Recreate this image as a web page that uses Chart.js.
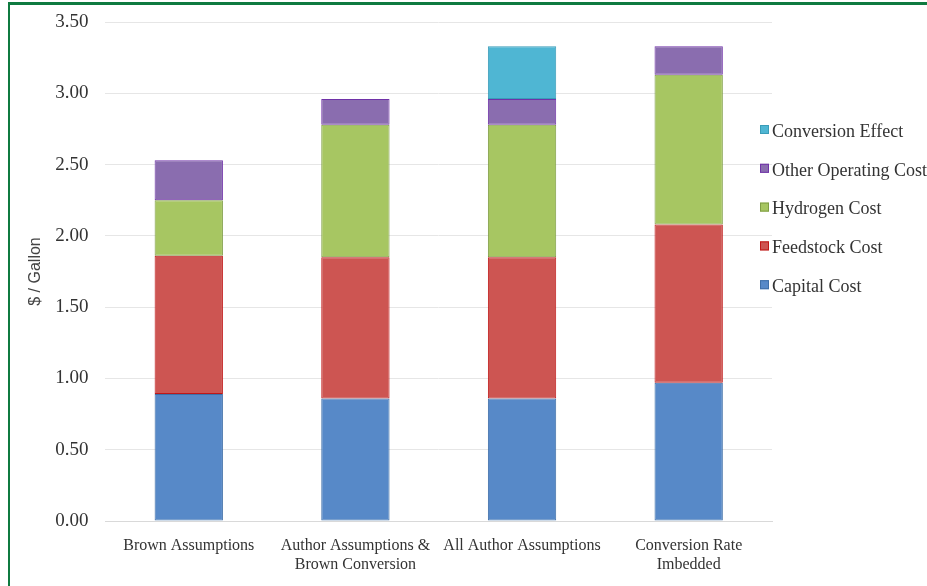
<!DOCTYPE html>
<html>
<head>
<meta charset="utf-8">
<script src="https://cdn.jsdelivr.net/npm/chart.js@4/dist/chart.umd.min.js"></script>
<style>
  html, body { margin: 0; padding: 0; background: #ffffff; }
  #frame {
    position: absolute; left: 8px; top: 2px; width: 940px; height: 600px;
    border-left: 2px solid #0f7a40; border-top: 3px solid #0f7a40;
    box-sizing: border-box;
  }
  #wrap { position: absolute; left: 0; top: 0; width: 927px; height: 586px; }
</style>
</head>
<body>
<div id="frame"></div>
<div id="wrap"><canvas id="c" width="927" height="586"></canvas></div>
<script>
// Scenario categories (multi-line labels)
const categories = [
  ["Brown Assumptions"],
  ["Author Assumptions &", "Brown Conversion"],
  ["All Author Assumptions"],
  ["Conversion Rate", "Imbedded"]
];

// Cost components, $ per gallon
const capitalCost        = [0.89, 0.86, 0.86, 0.97];
const feedstockCost      = [0.97, 0.99, 0.99, 1.11];
const hydrogenCost       = [0.39, 0.93, 0.93, 1.05];
const otherOperatingCost = [0.28, 0.18, 0.18, 0.20];
const conversionEffect   = [0.00, 0.00, 0.37, 0.00];

const yTicks = [0, 0.5, 1.0, 1.5, 2.0, 2.5, 3.0, 3.5];

const serif = "'Liberation Serif', 'Times New Roman', serif";

function ds(label, data, fill, border) {
  return {
    label, data,
    backgroundColor: fill,
    borderColor: border,
    borderWidth: 1,
    borderSkipped: false,
    categoryPercentage: 1.0,
    barPercentage: 0.41
  };
}

const datasets = [
  ds("Capital Cost", capitalCost, "#5789c8", "#3f6fa8"),
  ds("Feedstock Cost", feedstockCost, "#cd5552", "#c01818"),
  ds("Hydrogen Cost", hydrogenCost, "#a7c662", "#7f9d45"),
  ds("Other Operating Cost", otherOperatingCost, "#8a6daf", "#7032a8"),
  ds("Conversion Effect", conversionEffect, "#4fb6d3", "#3a9cb8")
];

// Legend drawn at the right, top entry = last dataset
const sideLegend = {
  id: "sideLegend",
  afterDraw(chart) {
    const ctx = chart.ctx;
    const sets = chart.data.datasets;
    ctx.save();
    ctx.font = "18px " + serif;
    ctx.textBaseline = "middle";
    ctx.textAlign = "left";
    const x0 = 760, y0 = 131, step = 38.8;
    for (let i = 0; i < sets.length; i++) {
      const d = sets[sets.length - 1 - i];
      const y = y0 + i * step;
      ctx.fillStyle = d.backgroundColor;
      ctx.fillRect(x0, y - 6, 9, 9);
      ctx.strokeStyle = d.borderColor;
      ctx.lineWidth = 1;
      ctx.strokeRect(x0 + 0.5, y - 5.5, 8, 8);
      ctx.fillStyle = "#333333";
      ctx.fillText(d.label, x0 + 12, y + 1);
    }
    ctx.restore();
  }
};

new Chart(document.getElementById("c"), {
  type: "bar",
  data: { labels: categories, datasets },
  options: {
    responsive: false,
    animation: false,
    layout: { padding: { left: 26, right: 155, top: 22, bottom: 0 } },
    plugins: { legend: { display: false }, tooltip: { enabled: false } },
    scales: {
      x: {
        stacked: true,
        afterFit(axis) { axis.height = 65; },
        grid: { display: false, drawTicks: false },
        border: { display: true, color: "#d9d9d9", width: 1 },
        ticks: {
          color: "#333333",
          font: { family: serif, size: 16 },
          padding: 15,
          maxRotation: 0,
          autoSkip: false
        }
      },
      y: {
        stacked: true,
        min: 0, max: 3.5,
        afterBuildTicks(axis) { axis.ticks = yTicks.map(v => ({ value: v })); },
        afterFit(axis) { axis.paddingTop = 0; },
        grid: { color: "#e6e6e6", lineWidth: 1, drawTicks: false },
        border: { display: false },
        title: {
          display: true, text: "$ / Gallon",
          color: "#444444",
          font: { family: "'Liberation Sans', Arial, sans-serif", size: 16 },
          padding: { top: 0, bottom: -7 }
        },
        ticks: {
          color: "#333333",
          font: { family: serif, size: 19 },
          padding: 17,
          callback: v => Number(v).toFixed(2)
        }
      }
    }
  },
  plugins: [sideLegend]
});
</script>
</body>
</html>
